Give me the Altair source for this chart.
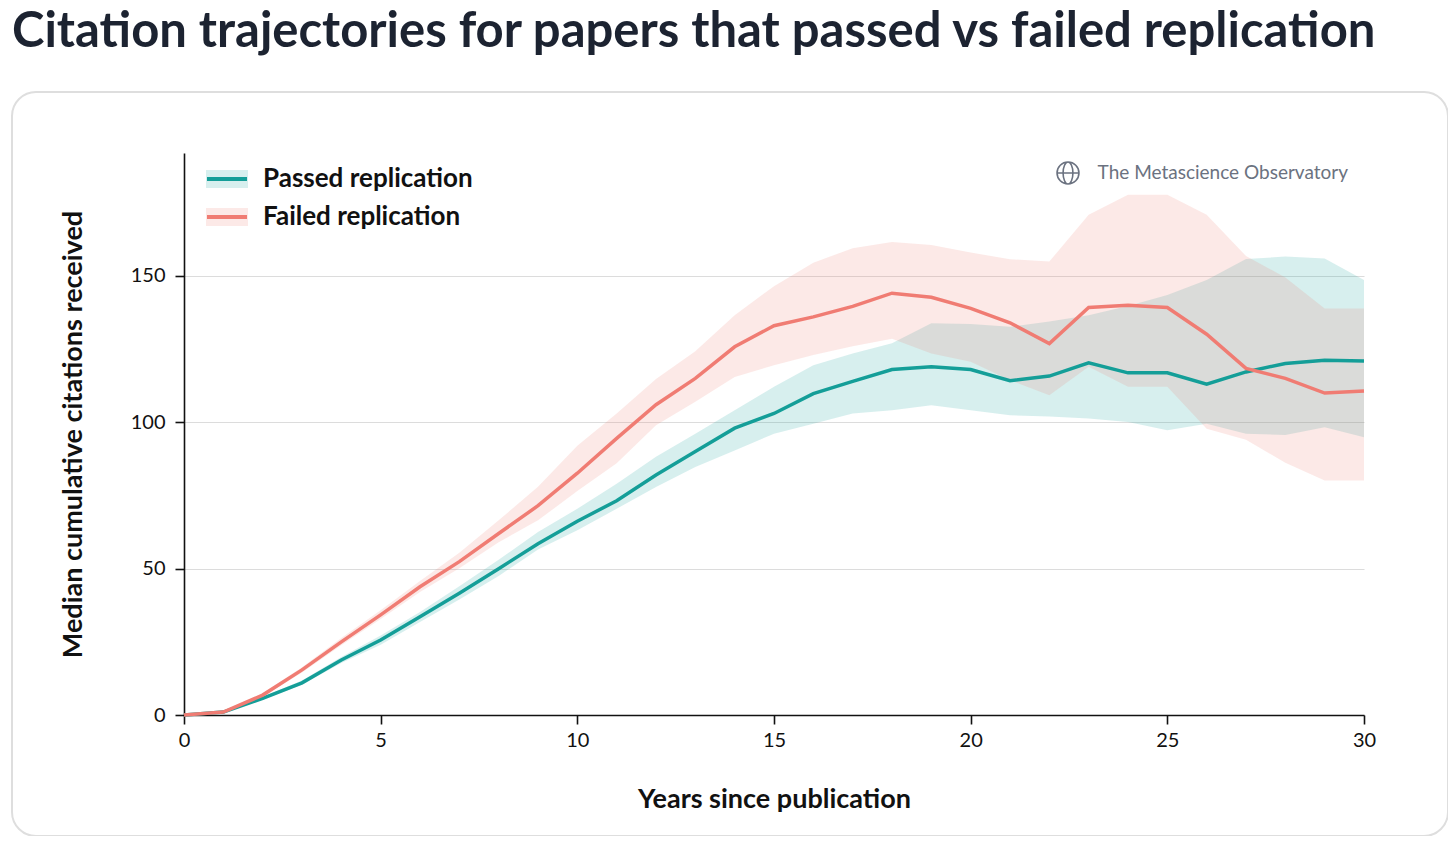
import altair as alt
import pandas as pd

FONT = "Lato"

years = list(range(31))

passed_median = [0, 1, 5.7, 11, 18.8, 25.6, 33.6, 41.6, 50, 58.5, 66.2, 73.2, 82, 90, 98, 103,
                 109.8, 114, 118, 119, 118, 114.2, 115.8, 120.3, 116.9, 116.9, 113, 117.2, 120.1, 121.2, 120.9]
passed_upper = [0, 1.2, 6.2, 11.8, 19.8, 27.2, 35.2, 44, 53, 62.5, 70.5, 79, 88.2, 96.1, 104.1, 112.1,
                119.5, 123.5, 127, 133.8, 133.6, 132.6, 134.4, 136.6, 139.7, 143.5, 148.6, 155.8, 156.6, 156, 148.6]
passed_lower = [0, 0.9, 5.3, 10.3, 17.8, 24, 31.8, 39.5, 47.5, 56.5, 63.1, 70.5, 77.9, 84.7, 90.4, 96.1,
                99.5, 103, 104.1, 105.8, 104.1, 102.4, 102, 101.3, 100.1, 97.3, 99.5, 96.1, 95.7, 98.3, 94.9]

failed_median = [0, 1, 6.8, 15.4, 25, 34.2, 43.8, 52.4, 62, 71.5, 82.6, 94.5, 106, 115, 125.8, 133,
                 136, 139.6, 144.1, 142.7, 138.9, 134, 126.9, 139.2, 140, 139.2, 130.1, 118.4, 115, 110, 110.7]
failed_upper = [0, 1.2, 7.4, 16.3, 26.3, 35.8, 45.8, 55.4, 66.5, 78, 92, 103, 114.8, 124.3, 136.6, 146.5,
                154.5, 159.5, 161.6, 160.6, 158, 155.7, 154.9, 170.9, 177.7, 177.7, 170.9, 156.8, 149.5, 138.9, 138.9]
failed_lower = [0, 0.8, 6.2, 14.5, 23.8, 32.8, 42, 50.1, 59, 66.5, 76.5, 86, 99, 107, 115.5, 119.5,
                123, 126, 128.5, 123.5, 120.7, 114.4, 109.2, 119, 112.1, 112.1, 97.8, 94, 86.2, 80.1, 80.1]

series_names = ["Passed replication", "Failed replication"]
series_colors = ["#149e98", "#f07c73"]

title_text = "Citation trajectories for papers that passed vs failed replication"
watermark_text = "The Metascience Observatory"

# lucide-style globe, drawn in the [-1, 1] symbol box
GLOBE = "M1,0A1,1,0,1,1,-1,0A1,1,0,1,1,1,0M0,-1A0.45,1,0,0,0,0,1A0.45,1,0,0,0,0,-1M-1,0L1,0"


def build_frame():
    rows = []
    groups = [
        (series_names[0], passed_median, passed_lower, passed_upper),
        (series_names[1], failed_median, failed_lower, failed_upper),
    ]
    for name, med, lo, hi in groups:
        for yr, m, l, h in zip(years, med, lo, hi):
            rows.append({"series": name, "year": yr, "median": m, "lower": l, "upper": h})
    return pd.DataFrame(rows)


df = build_frame()
one_row = alt.Data(values=[{}])

color = alt.Color(
    "series:N",
    scale=alt.Scale(domain=series_names, range=series_colors),
    legend=None,
)

x_enc = alt.X(
    "year:Q",
    scale=alt.Scale(domain=[0, 30], nice=False),
    axis=alt.Axis(
        values=list(range(0, 31, 5)),
        title="Years since publication",
        grid=False,
        labelFlush=False,
        tickSize=9,
        labelPadding=6,
        titlePadding=36,
    ),
)

y_scale = alt.Scale(domain=[0, 192], nice=False)
y_axis = alt.Axis(
    values=[0, 50, 100, 150],
    title="Median cumulative citations received",
    grid=True,
    gridColor="#dcdcdc",
    gridWidth=1.2,
    tickSize=9,
    labelPadding=10,
    titlePadding=43,
)

base = alt.Chart(df)

bands = base.mark_area(opacity=0.17).encode(
    x=x_enc,
    y=alt.Y("lower:Q", scale=y_scale, axis=y_axis),
    y2="upper:Q",
    color=color,
)

lines = base.mark_line(strokeWidth=3.5).encode(
    x=x_enc,
    y=alt.Y("median:Q", scale=y_scale, axis=y_axis),
    color=color,
)

# rounded card behind the plot, stroke only so the axes stay visible
card = alt.Chart(one_row).mark_rect(
    cornerRadius=24, fill="transparent", stroke="#dedede", strokeWidth=2
).encode(x=alt.value(-172), x2=alt.value(1264), y=alt.value(-61), y2=alt.value(683))

title = alt.Chart(one_row).mark_text(
    align="left", baseline="alphabetic", font=FONT, fontSize=49, fontWeight="bold", color="#1c2331"
).encode(x=alt.value(-172), y=alt.value(-106), text=alt.value(title_text))

globe = alt.Chart(one_row).mark_point(
    shape=GLOBE, size=480, filled=False, stroke="#6b7280", strokeWidth=1.6, opacity=1
).encode(x=alt.value(884), y=alt.value(20))

watermark = alt.Chart(one_row).mark_text(
    align="right", baseline="middle", font=FONT, fontSize=19, color="#6b7280"
).encode(x=alt.value(1164), y=alt.value(20), text=alt.value(watermark_text))

# hand-made legend: light band swatch with the line through it
legend_df = pd.DataFrame({"series": series_names})
legend_y = alt.Y(
    "series:N",
    scale=alt.Scale(type="point", domain=series_names, range=[26, 64], padding=0),
    axis=None,
)
legend_base = alt.Chart(legend_df)
swatch = legend_base.mark_rule(strokeWidth=18, opacity=0.17).encode(
    x=alt.value(22), x2=alt.value(64), y=legend_y, color=color
)
swatch_line = legend_base.mark_rule(strokeWidth=4).encode(
    x=alt.value(23), x2=alt.value(63), y=legend_y, color=color
)
legend_text = legend_base.mark_text(
    align="left", baseline="middle", font=FONT, fontSize=26, fontWeight="bold", color="#111111"
).encode(x=alt.value(79), y=legend_y, text="series:N")

main = alt.layer(card, bands, lines, globe, watermark, title)
legend = alt.layer(swatch, swatch_line, legend_text)

chart = (
    alt.layer(main, legend)
    .resolve_scale(y="independent")
    .properties(
        width=1180,
        height=562,
        padding={"left": 176, "top": 145, "right": 84, "bottom": 121},
        autosize=alt.AutoSizeParams(type="none"),
    )
    .configure_view(stroke=None)
    .configure_axis(
        domainColor="#111111",
        domainWidth=1.6,
        tickColor="#111111",
        tickWidth=1.6,
        labelFont=FONT,
        labelFontSize=20,
        labelColor="#111111",
        titleFont=FONT,
        titleFontSize=27,
        titleFontWeight="bold",
        titleColor="#111111",
    )
)

chart.save("out.html", embed_options={"renderer": "svg", "actions": False})
